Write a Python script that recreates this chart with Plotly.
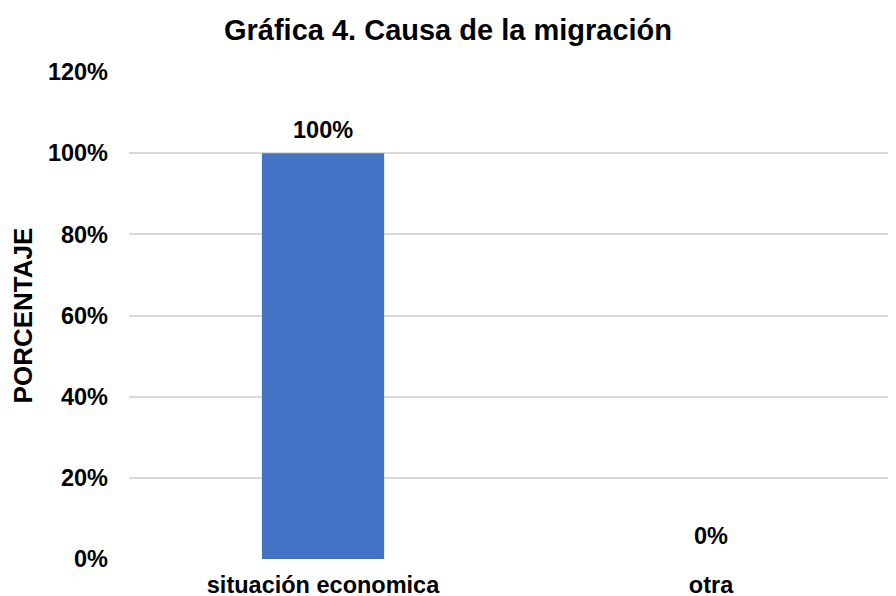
import plotly.graph_objects as go

categories = ["situación economica", "otra"]
values = [1.00, 0.00]
labels = ["100%", "0%"]
y_ticks = [0, 0.2, 0.4, 0.6, 0.8, 1.0, 1.2]
y_tick_text = ["0%", "20%", "40%", "60%", "80%", "100%", "120%"]

FONT = "Liberation Sans, Arial, sans-serif"
x_pos = list(range(len(categories)))

fig = go.Figure(go.Bar(
    x=x_pos, y=values, width=0.315,
    marker=dict(color="#4472C4", line=dict(width=0)),
    hoverinfo="skip",
))

for xp, v, lab in zip(x_pos, values, labels):
    fig.add_annotation(x=xp, y=v, xref="x", yref="y", text=f"<b>{lab}</b>",
                       showarrow=False, yanchor="middle", yshift=23,
                       font=dict(family=FONT, size=23.5, color="#000000"))

fig.update_layout(
    width=880, height=588,
    margin=dict(l=121, r=0, t=64, b=37, autoexpand=False),
    paper_bgcolor="white", plot_bgcolor="white",
    showlegend=False,
    title=dict(text="<b>Gráfica 4. Causa de la migración</b>", x=0.5, xanchor="center",
               xref="container", y=1 - 22 / 588, yanchor="middle", yref="container",
               font=dict(family=FONT, size=29, color="#000000")),
    font=dict(family=FONT, color="#000000"),
)
fig.update_xaxes(
    range=[-0.5, 1.456], tickvals=x_pos, ticktext=[f"<b>{c}</b>" for c in categories],
    showgrid=False, zeroline=False, showline=False, ticks="", automargin=False,
    tickfont=dict(family=FONT, size=23.5, color="#000000"), ticklabelstandoff=9,
)
fig.update_yaxes(
    range=[0, 1.2], tickvals=y_ticks, ticktext=[f"<b>{t}</b>" for t in y_tick_text],
    showgrid=True, gridcolor="#D9D9D9", gridwidth=1.5, zeroline=False, showline=False,
    automargin=False,
    tickfont=dict(family=FONT, size=23.5, color="#000000"), ticklabelstandoff=20,
    title=dict(text="<b>PORCENTAJE</b>", font=dict(family=FONT, size=26, color="#000000"), standoff=10),
)

fig.write_html("out.html")
